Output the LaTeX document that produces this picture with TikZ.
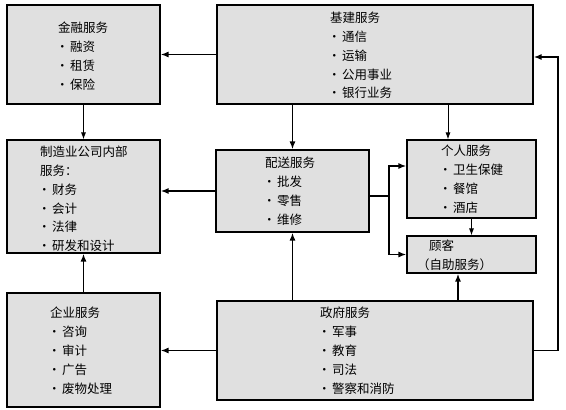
\documentclass[tikz,border=0pt]{standalone}
\usepackage{fontspec}
\usepackage{tikz}
\usetikzlibrary{arrows.meta}
\newfontfamily\cjk{Noto Sans CJK SC}
\newcommand{\bul}{\hspace*{-2pt}•\hspace{1.5pt}}

\begin{document}
\begin{tikzpicture}[x=1pt,y=-1pt,
    svcbox/.style={draw=black, line width=1.1pt, fill=gray!24, inner sep=0pt},
    svctext/.style={anchor=north west, inner sep=0pt, align=left,
      font=\cjk\fontsize{12.5}{18.8}\selectfont},
    thinarrow/.style={line width=0.9pt, -{Latex[length=7pt,width=5pt]}},
    thickarrow/.style={line width=1.8pt, -{Latex[length=8pt,width=6pt]}},
    thickline/.style={line width=1.8pt}]
  \useasboundingbox (0,0) rectangle (566,410);

  % Boxes
  \node[svcbox, minimum width=153pt, minimum height=99pt] (finance) at (83.5,54.5) {};
  \node[svcbox, minimum width=316pt, minimum height=99pt] (infra) at (375,54.5) {};
  \node[svcbox, minimum width=153pt, minimum height=113pt] (manuf) at (83.5,196.5) {};
  \node[svcbox, minimum width=153pt, minimum height=82pt] (dist) at (292.5,191) {};
  \node[svcbox, minimum width=129pt, minimum height=78pt] (personal) at (471.5,179) {};
  \node[svcbox, minimum width=129pt, minimum height=37pt] (customer) at (471.5,254.5) {};
  \node[svcbox, minimum width=153pt, minimum height=114pt] (enterprise) at (83.5,350) {};
  \node[svcbox, minimum width=316pt, minimum height=99pt] (gov) at (375,350.5) {};

  % Texts
  \node[svctext] (finance-t) at (58,22) {金融服务\\\bul 融资\\\bul 租赁\\\bul 保险};
  \node[svctext] (infra-t) at (330,12) {基建服务\\\bul 通信\\\bul 运输\\\bul 公用事业\\\bul 银行业务};
  \node[svctext] (manuf-t) at (40,146) {制造业公司内部\\服务：\\\bul 财务\\\bul 会计\\\bul 法律\\\bul 研发和设计};
  \node[svctext] (dist-t) at (265,157) {配送服务\\\bul 批发\\\bul 零售\\\bul 维修};
  \node[svctext] (personal-t) at (441,145) {个人服务\\\bul 卫生保健\\\bul 餐馆\\\bul 酒店};
  \node[svctext] (customer-t) at (417,240) {\hspace*{12pt}顾客\\（自助服务）};
  \node[svctext] (enterprise-t) at (50,307) {企业服务\\\bul 咨询\\\bul 审计\\\bul 广告\\\bul 废物处理};
  \node[svctext] (gov-t) at (320,307) {政府服务\\\bul 军事\\\bul 教育\\\bul 司法\\\bul 警察和消防};

  % Connectors
  \draw[thickarrow] (infra.west) -- (finance.east);
  \draw[thinarrow] (finance.south) -- (manuf.north);
  \draw[thickarrow] (infra.south -| dist.north) -- (dist.north);
  \draw[thinarrow] ([xshift=-23.5pt]personal.north |- infra.south) -- ([xshift=-23.5pt]personal.north);
  \draw[thickarrow] (dist.west) -- (dist.west -| manuf.east);
  \coordinate (split) at (389,196);
  \draw[thickline] (split -| dist.east) -- (split);
  \draw[thickarrow] (split) |- ([yshift=13pt]personal.west);
  \draw[thickarrow] (split) |- (customer.west);
  \draw[thinarrow] (personal.south) -- (customer.north);
  \draw[thickarrow] (gov.north -| dist.south) -- (dist.south);
  \draw[thickarrow] ([xshift=-13.5pt]customer.south |- gov.north) -- ([xshift=-13.5pt]customer.south);
  \draw[thickarrow] (gov.west) -- (gov.west -| enterprise.east);
  \draw[thickarrow] (enterprise.north) -- (manuf.south);
  \coordinate (loop) at (558,57);
  \draw[thickarrow] (gov.east) -| (loop) -- (loop -| infra.east);
\end{tikzpicture}
\end{document}
